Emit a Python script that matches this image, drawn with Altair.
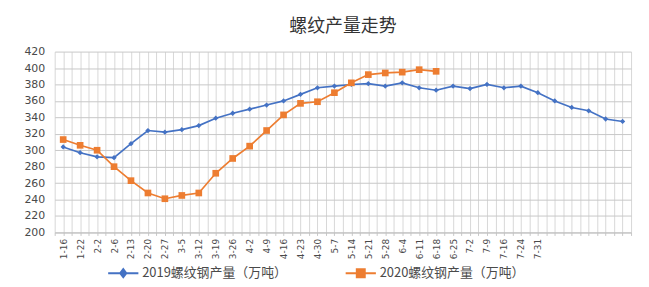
import json
import altair as alt
import pandas as pd

dates = ["1-16", "1-22", "2-2", "2-6", "2-13", "2-20", "2-27", "3-5", "3-12", "3-19",
         "3-26", "4-2", "4-9", "4-16", "4-23", "4-30", "5-7", "5-14", "5-21", "5-28",
         "6-4", "6-11", "6-18", "6-25", "7-2", "7-9", "7-16", "7-24", "7-31"]
s2019 = [304, 297, 292, 291, 308, 324, 322, 325, 330, 339, 345, 350, 355, 360, 368, 376,
         378, 380, 381, 378, 382, 376, 373, 378, 375, 380, 376, 378, 370, 360, 352, 348,
         338, 335]
s2020 = [313, 306, 300, 280, 263, 248, 241, 245, 248, 272, 290, 305, 324, 343, 357, 359,
         370, 382, 392, 394, 395, 398, 396]
names = ["2019螺纹钢产量（万吨）", "2020螺纹钢产量（万吨）"]
colors = ["#4472C4", "#ED7D31"]

rows = []
for i, v in enumerate(s2019):
    rows.append({"i": i, "v": v, "s": names[0]})
for i, v in enumerate(s2020):
    rows.append({"i": i, "v": v, "s": names[1]})
df = pd.DataFrame(rows)

n = len(s2019)
xvals = [-0.5 + 0.5 * k for k in range(2 * n + 1)]
label_expr = ("(datum.value % 1 == 0 && datum.value >= 0 && datum.value < " + str(len(dates))
              + ") ? " + json.dumps(dates, ensure_ascii=False) + "[datum.value] : ''")

X = alt.X("i:Q", scale=alt.Scale(domain=[-0.5, n - 0.5], nice=False, zero=False),
          axis=alt.Axis(values=xvals, labelExpr=label_expr, labelAngle=-90, labelOverlap=False,
                        labelFont="DejaVu Sans", labelFontSize=9, labelColor="#4a4a4a",
                        labelPadding=3, grid=True, gridColor="#d8d8d8", ticks=True, tickSize=3,
                        tickColor="#c8c8c8", domainColor="#bfbfbf", title=None))
Y = alt.Y("v:Q", scale=alt.Scale(domain=[200, 420], nice=False, zero=False),
          axis=alt.Axis(values=list(range(200, 421, 20)), grid=True, gridColor="#c8c8c8",
                        ticks=False, domain=False, labelFont="DejaVu Sans", labelFontSize=11,
                        labelColor="#4a4a4a", labelPadding=10, minExtent=42, maxExtent=42,
                        title=None))
cscale = alt.Scale(domain=names, range=colors)

legend_def = alt.Legend(
    orient="none", legendX=60, legendY=214, direction="horizontal", title=None,
    labelFont="Noto Sans CJK SC", labelFontSize=13, labelColor="#4a4a4a", labelLimit=300,
    columnPadding=54, labelOffset=10, symbolStrokeWidth=2, symbolSize=256, symbolOpacity=1)
C = alt.Color("s:N", scale=cscale, legend=legend_def)

base = alt.Chart(df)
line = base.mark_line(strokeWidth=1.7).encode(x=X, y=Y, color=C)
pts19 = base.transform_filter(alt.datum.s == names[0]).mark_point(
    shape="diamond", filled=True, opacity=1, size=28).encode(x=X, y=Y, color=C)
pts20 = base.transform_filter(alt.datum.s == names[1]).mark_point(
    shape="square", filled=True, opacity=1, size=45).encode(x=X, y=Y, color=C)

leg_paths = ["M-1.9,0H1.9M-0.38,0L0,-0.5L0.38,0L0,0.5Z",
             "M-1.9,0H1.9M-0.5,-0.5H0.5V0.5H-0.5Z"]
leg = base.mark_point(filled=False, strokeWidth=2, size=256, opacity=1).encode(
    x=X, y=Y, color=C,
    shape=alt.Shape("s:N", scale=alt.Scale(domain=names, range=leg_paths), legend=legend_def),
).transform_filter("false")

chart = alt.layer(line, pts19, pts20, leg).properties(
    width=580, height=182,
    title=alt.TitleParams("螺纹产量走势", font="Noto Sans CJK SC", fontSize=18, fontWeight="normal",
                          color="#333333", offset=10, anchor="middle"),
    padding={"left": 5, "top": 9, "right": 5, "bottom": 0},
).configure_view(strokeWidth=0)

chart.save("out.html", embed_options={"renderer": "svg", "actions": False})
